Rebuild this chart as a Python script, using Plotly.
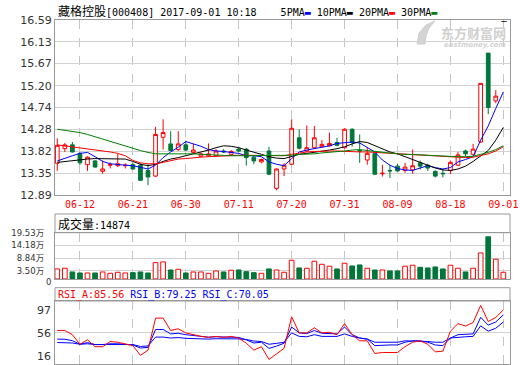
import plotly.graph_objects as go

# ---------------- data ----------------
dates = ["06-07", "06-08", "06-09", "06-12", "06-13", "06-14", "06-15", "06-16", "06-19", "06-20",
         "06-21", "06-22", "06-23", "06-26", "06-27", "06-28", "06-29", "06-30", "07-03", "07-04",
         "07-05", "07-06", "07-07", "07-10", "07-11", "07-12", "07-13", "07-14", "07-17", "07-18",
         "07-19", "07-20", "07-21", "07-24", "07-25", "07-26", "07-27", "07-28", "07-31", "08-01",
         "08-02", "08-03", "08-04", "08-07", "08-08", "08-09", "08-10", "08-11", "08-14", "08-15",
         "08-16", "08-17", "08-18", "08-21", "08-22", "08-23", "08-24", "08-25", "08-28", "09-01"]

opens = [13.56, 13.87, 13.95, 13.77, 13.53, 13.61, 13.39, 13.52, 13.51, 13.51,
         13.53, 13.52, 13.41, 13.29, 14.11, 13.97, 13.85, 13.95, 13.79, 13.71,
         13.72, 13.72, 13.82, 13.75, 13.86, 13.86, 13.69, 13.59, 13.82, 13.03,
         13.44, 13.54, 14.10, 13.82, 13.89, 13.91, 13.93, 14.00, 13.89, 14.28,
         13.83, 13.63, 13.77, 13.34, 13.41, 13.50, 13.41, 13.42, 13.57, 13.52,
         13.39, 13.35, 13.41, 13.52, 13.82, 13.75, 14.01, 15.89, 14.88]
highs = [14.09, 13.99, 14.01, 13.80, 13.71, 13.63, 13.62, 13.58, 13.76, 13.56,
         13.58, 13.56, 13.54, 14.33, 14.49, 14.24, 14.24, 14.04, 13.97, 13.79,
         13.98, 13.86, 13.86, 13.84, 13.90, 13.88, 13.72, 13.66, 13.91, 13.45,
         13.56, 14.49, 14.28, 14.36, 14.35, 14.05, 14.21, 14.10, 14.30, 14.30,
         14.17, 13.90, 13.79, 13.53, 13.52, 13.55, 13.57, 13.85, 13.62, 13.55,
         13.41, 13.43, 13.62, 13.80, 13.85, 13.97, 15.25, 15.89, 15.11]
lows = [13.40, 13.80, 13.79, 13.53, 13.40, 13.47, 13.34, 13.45, 13.48, 13.45,
        13.43, 13.19, 13.10, 13.27, 13.85, 13.82, 13.82, 13.82, 13.77, 13.69,
        13.70, 13.70, 13.78, 13.74, 13.80, 13.51, 13.54, 13.56, 13.31, 12.99,
        13.29, 13.52, 13.85, 13.80, 13.86, 13.89, 13.91, 13.92, 13.87, 13.91,
        13.57, 13.53, 13.31, 13.28, 13.25, 13.38, 13.36, 13.34, 13.43, 13.40,
        13.26, 13.26, 13.33, 13.50, 13.70, 13.73, 13.99, 14.60, 14.83]
closes = [13.94, 13.95, 13.80, 13.57, 13.69, 13.48, 13.44, 13.53, 13.55, 13.52,
          13.44, 13.20, 13.27, 14.17, 14.21, 13.83, 13.97, 13.84, 13.84, 13.76,
          13.76, 13.82, 13.80, 13.81, 13.82, 13.68, 13.61, 13.64, 13.33, 13.44,
          13.52, 14.30, 13.88, 13.89, 14.10, 13.96, 13.98, 13.94, 14.28, 14.00,
          13.82, 13.77, 13.33, 13.35, 13.40, 13.40, 13.48, 13.51, 13.50, 13.46,
          13.29, 13.34, 13.58, 13.74, 13.76, 13.86, 15.25, 14.74, 14.98]

ma5 = [13.61, 13.67, 13.72, 13.77, 13.79, 13.70, 13.60, 13.55, 13.53, 13.52,
       13.51, 13.47, 13.44, 13.52, 13.68, 13.80, 13.90, 14.02, 13.97, 13.92,
       13.85, 13.82, 13.81, 13.79, 13.77, 13.72, 13.72, 13.70, 13.59, 13.54,
       13.51, 13.66, 13.80, 13.84, 13.87, 13.90, 13.93, 13.98, 14.00, 14.01,
       13.99, 13.90, 13.80, 13.63, 13.52, 13.45, 13.42, 13.41, 13.46, 13.51,
       13.47, 13.44, 13.47, 13.59, 13.64, 13.70, 14.05, 14.35, 14.72, 15.07]
ma10 = [13.58, 13.60, 13.62, 13.63, 13.65, 13.66, 13.66, 13.65, 13.65, 13.65,
        13.60, 13.54, 13.51, 13.54, 13.60, 13.65, 13.68, 13.72, 13.76, 13.79,
        13.84, 13.89, 13.93, 13.92, 13.89, 13.84, 13.80, 13.75, 13.70, 13.67,
        13.66, 13.70, 13.75, 13.77, 13.79, 13.81, 13.84, 13.87, 13.91, 13.97,
        14.02, 14.00, 13.93, 13.86, 13.80, 13.76, 13.70, 13.64, 13.58, 13.52,
        13.46, 13.42, 13.41, 13.44, 13.50, 13.60, 13.71, 13.83, 14.05, 14.32]
ma20 = [13.95, 13.93, 13.91, 13.89, 13.87, 13.85, 13.82, 13.80, 13.77, 13.72,
        13.62, 13.57, 13.55, 13.55, 13.58, 13.62, 13.65, 13.66, 13.68, 13.69,
        13.70, 13.71, 13.72, 13.72, 13.73, 13.73, 13.73, 13.73, 13.73, 13.72,
        13.72, 13.75, 13.78, 13.80, 13.81, 13.82, 13.82, 13.82, 13.81, 13.81,
        13.80, 13.80, 13.79, 13.78, 13.77, 13.76, 13.75, 13.74, 13.74, 13.73,
        13.72, 13.71, 13.70, 13.69, 13.68, 13.69, 13.72, 13.76, 13.82, 13.91]
ma30 = [14.28, 14.26, 14.24, 14.21, 14.17, 14.12, 14.08, 14.03, 13.97, 13.92,
        13.87, 13.83, 13.79, 13.76, 13.76, 13.76, 13.77, 13.77, 13.76, 13.75,
        13.74, 13.73, 13.73, 13.72, 13.72, 13.72, 13.72, 13.72, 13.72, 13.72,
        13.72, 13.73, 13.75, 13.75, 13.76, 13.78, 13.79, 13.80, 13.82, 13.84,
        13.85, 13.83, 13.81, 13.79, 13.77, 13.76, 13.75, 13.75, 13.74, 13.73,
        13.72, 13.72, 13.71, 13.70, 13.70, 13.71, 13.75, 13.79, 13.85, 13.93]

volume = [4.24, 4.53, 2.97, 2.54, 2.54, 2.54, 2.97, 2.40, 2.84, 2.54,
          2.67, 2.97, 2.54, 6.90, 7.20, 3.80, 4.10, 2.54, 2.97, 2.97,
          2.40, 3.40, 2.97, 3.70, 3.80, 3.10, 2.67, 2.40, 4.24, 3.80,
          2.84, 7.90, 4.66, 4.53, 7.50, 6.20, 5.40, 4.24, 6.65, 5.50,
          5.93, 4.53, 3.80, 3.80, 3.40, 3.40, 5.40, 5.80, 4.96, 4.66,
          5.08, 4.24, 5.80, 4.53, 2.97, 4.53, 11.00, 17.80, 8.35, 2.84]

rsi_a = [59.1, 59.1, 53.7, 41.4, 47.1, 38.3, 38.3, 44.9, 44.0, 41.8,
         39.6, 27.2, 33.9, 75.0, 75.0, 59.1, 61.3, 56.0, 53.7, 51.5,
         50.2, 51.5, 50.2, 51.5, 49.4, 42.7, 33.9, 38.3, 21.9, 29.5,
         36.1, 76.7, 56.0, 56.0, 62.6, 56.0, 56.8, 53.7, 67.9, 53.7,
         45.8, 45.8, 29.5, 30.8, 30.8, 30.8, 38.3, 44.0, 45.8, 41.4,
         31.6, 32.5, 58.2, 67.9, 64.8, 69.3, 91.3, 70.6, 75.9, 85.56]
rsi_b = [48.0, 47.8, 46.0, 41.5, 43.5, 41.0, 41.0, 42.0, 42.0, 41.5,
         40.5, 36.5, 37.4, 60.4, 60.4, 54.7, 55.5, 53.7, 52.5, 51.5,
         50.5, 51.0, 50.5, 50.5, 50.2, 47.0, 43.0, 44.0, 36.1, 39.0,
         42.7, 63.5, 56.0, 55.0, 59.1, 55.5, 55.5, 54.7, 63.5, 53.7,
         49.4, 48.0, 39.6, 40.5, 40.5, 40.5, 44.0, 45.8, 45.8, 44.0,
         40.5, 39.6, 49.4, 53.7, 54.0, 54.7, 76.0, 66.0, 70.0, 79.25]
rsi_c = [43.6, 43.5, 43.0, 41.4, 42.0, 41.0, 41.0, 41.5, 41.5, 41.5,
         41.0, 38.5, 39.2, 50.6, 50.6, 49.4, 50.0, 49.0, 48.5, 48.5,
         48.0, 48.5, 48.5, 48.5, 48.3, 47.5, 45.5, 44.9, 41.4, 42.5,
         44.0, 56.0, 51.5, 51.0, 53.7, 51.5, 51.5, 51.5, 54.7, 51.5,
         49.4, 48.0, 44.0, 44.0, 44.0, 44.0, 45.8, 45.8, 44.9, 44.9,
         44.0, 44.0, 49.4, 50.6, 51.0, 51.5, 65.0, 58.2, 62.0, 70.05]

price_ticks = [12.89, 13.35, 13.82, 14.28, 14.74, 15.20, 15.67, 16.13, 16.59]
vol_ticks = [0, 3.50, 8.84, 14.18, 19.53]
vol_tick_text = ["0", "3.50万", "8.84万", "14.18万", "19.53万"]
date_ticks = ["06-12", "06-21", "06-30", "07-11", "07-20", "07-31", "08-09", "08-18", "09-01"]
rsi_labels = ["97", "56", "16"]

# ---------------- styling / layout helpers ----------------
W, H = 520, 365
RED, GREEN, BLUE = "#ff0000", "#00763a", "#0000ff"
FRAME = "#999999"
GRID = "#d2d2d2"
MONO = "DejaVu Sans Mono, Noto Sans CJK SC"
SANS = "DejaVu Sans, Noto Sans CJK SC"
NB = "\u00a0"


def fx(px):
    return px / W


def fy(py):
    return 1 - py / H


X0, X1 = fx(55), fx(510)

fig = go.Figure()

n_c = len(opens)
fig.add_trace(go.Candlestick(
    x=dates[:n_c], open=opens, high=highs, low=lows, close=closes,
    increasing=dict(line=dict(color=RED, width=1), fillcolor="#ffffff"),
    decreasing=dict(line=dict(color=GREEN, width=1), fillcolor=GREEN),
    whiskerwidth=0, xaxis="x", yaxis="y", showlegend=False, hoverinfo="skip"))

for vals, col in [(ma5, BLUE), (ma10, "#000000"), (ma20, RED), (ma30, "#008000")]:
    fig.add_trace(go.Scatter(x=dates, y=vals, mode="lines", line=dict(color=col, width=1),
                             xaxis="x", yaxis="y", showlegend=False, hoverinfo="skip"))

up = [closes[i] >= opens[i] if i < n_c else True for i in range(len(volume))]
fig.add_trace(go.Bar(
    x=dates, y=volume, xaxis="x2", yaxis="y2", width=0.62,
    marker=dict(color=["#ffffff" if u else GREEN for u in up],
                line=dict(color=[RED if u else GREEN for u in up], width=1)),
    showlegend=False, hoverinfo="skip"))

for vals, col in [(rsi_c, BLUE), (rsi_b, BLUE), (rsi_a, RED)]:
    fig.add_trace(go.Scatter(x=dates, y=vals, mode="lines", line=dict(color=col, width=1),
                             xaxis="x3", yaxis="y3", showlegend=False, hoverinfo="skip"))

xcommon = dict(type="category", range=[-0.3, 59.88], tickmode="array", tickvals=date_ticks,
               showgrid=True, gridcolor="#c4c4c4", griddash="dash", gridwidth=1,
               showline=True, mirror=True, linecolor=FRAME, linewidth=1, zeroline=False,
               ticks="", domain=[X0, X1], fixedrange=True, automargin=False)

ycommon = dict(showline=True, mirror=True, linecolor=FRAME, linewidth=1, zeroline=False,
               gridcolor=GRID, gridwidth=1, ticks="", fixedrange=True, automargin=False)

# the "0" of the volume axis is written a little lower (see annotation below)
vol_text = ["" if t == "0" else t + NB * 3 for t in vol_tick_text]

fig.update_layout(
    width=W, height=H, margin=dict(l=0, r=0, t=0, b=0, pad=0), autosize=False,
    paper_bgcolor="#ffffff", plot_bgcolor="#ffffff", showlegend=False,
    xaxis=dict(**xcommon, anchor="y", showticklabels=True,
               tickfont=dict(family=MONO, size=10, color=RED),
               rangeslider=dict(visible=False)),
    xaxis2=dict(**xcommon, anchor="y2", matches="x", showticklabels=False),
    xaxis3=dict(**xcommon, anchor="y3", matches="x", showticklabels=False),
    yaxis=dict(**ycommon, domain=[fy(195), fy(20)], range=[price_ticks[0], price_ticks[-1]],
               tickmode="array", tickvals=price_ticks, ticktext=["%.2f" % v for v in price_ticks],
               tickfont=dict(family=SANS, size=11, color="#333333"), anchor="x"),
    yaxis2=dict(**ycommon, domain=[fy(279), fy(232.7)], range=[0, vol_ticks[-1]],
                tickmode="array", tickvals=vol_ticks, ticktext=vol_text,
                tickfont=dict(family=SANS, size=8.5, color="#333333"), anchor="x2"),
    yaxis3=dict(**ycommon, domain=[fy(364), fy(301)], range=[16, 97],
                tickmode="array", tickvals=[56], showticklabels=False, anchor="x3"),
    bargap=0.3,
)

fig.add_annotation(text=vol_tick_text[0], xref="paper", yref="paper", x=fx(53), y=fy(281.5),
                   xanchor="right", yanchor="middle", showarrow=False,
                   font=dict(family=SANS, size=8.5, color="#333333"))

# header boxes of the volume and RSI panels
fig.add_shape(type="rect", xref="paper", yref="paper", x0=X0, x1=X1, y0=fy(232.7), y1=fy(214),
              line=dict(color=FRAME, width=1), fillcolor="rgba(0,0,0,0)", layer="above")
fig.add_shape(type="rect", xref="paper", yref="paper", x0=X0, x1=X1, y0=fy(301), y1=fy(287.7),
              line=dict(color=FRAME, width=1), fillcolor="rgba(0,0,0,0)", layer="above")

# watermark logo (decorative swoosh)
logo_pts = [(417, 44), (419, 33), (426, 25), (435, 21), (429, 28), (426, 36), (425, 44)]
logo_path = "M " + " L ".join("%.5f %.5f" % (fx(a), fy(b)) for a, b in logo_pts) + " Z"
fig.add_shape(type="path", xref="paper", yref="paper", path=logo_path,
              line=dict(color="#d0d0d0", width=1), fillcolor="#d4d4d4", layer="above")

cjk = "<span style=\"font-family:'Noto Sans CJK SC';font-size:12px\">%s</span>"
title = (cjk % "藏格控股") + "[000408]" + NB + "2017-09-01" + NB + "10:18" + NB * 4 + \
    "5PMA<span style='color:#0000ff'>▬</span>" + NB + \
    "10PMA<span style='color:#000000'>▬</span>" + NB + \
    "20PMA<span style='color:#ff0000'>▬</span>" + NB + \
    "30PMA<span style='color:#008000'>▬</span>"
fig.add_annotation(text=title, xref="paper", yref="paper", x=fx(56), y=fy(10),
                   xanchor="left", yanchor="middle", showarrow=False,
                   font=dict(family=MONO, size=10, color="#000000"))

fig.add_annotation(text=(cjk % "成交量") + ":14874", xref="paper", yref="paper", x=fx(56), y=fy(223),
                   xanchor="left", yanchor="middle", showarrow=False,
                   font=dict(family=MONO, size=10, color="#000000"))

rsi_title = ("<span style='color:#ff0000'>RSI_A:85.56</span>" + NB +
             "<span style='color:#0000ff'>RSI_B:79.25</span>" + NB +
             "<span style='color:#0000ff'>RSI_C:70.05</span>")
fig.add_annotation(text=rsi_title, xref="paper", yref="paper", x=fx(56), y=fy(294.5),
                   xanchor="left", yanchor="middle", showarrow=False,
                   font=dict(family=MONO, size=10))

for lab, py in zip(rsi_labels, [310, 333.3, 356]):
    fig.add_annotation(text=lab, xref="paper", yref="paper", x=fx(53), y=fy(py),
                       xanchor="right", yanchor="middle", showarrow=False,
                       font=dict(family=SANS, size=11, color="#333333"))

# watermark text and the small icon at the top right
fig.add_annotation(text="<b>东方财富网</b>", xref="paper", yref="paper", x=fx(508), y=fy(33),
                   xanchor="right", yanchor="middle", showarrow=False,
                   font=dict(family="Noto Sans CJK SC", size=13, color="#cfcfcf"))
fig.add_annotation(text="<b><i>eastmoney.com</i></b>", xref="paper", yref="paper", x=fx(508), y=fy(45),
                   xanchor="right", yanchor="middle", showarrow=False,
                   font=dict(family="DejaVu Sans", size=7, color="#d2d2d2"))
fig.add_annotation(text="<b>—</b>", xref="paper", yref="paper", x=fx(504), y=fy(21),
                   xanchor="center", yanchor="middle", showarrow=False,
                   font=dict(family="DejaVu Sans", size=6, color="#000000"))

fig.write_html("out.html", config={"displayModeBar": False, "staticPlot": True},
               post_script="document.body.style.margin='0px';document.body.style.overflow='hidden';")
